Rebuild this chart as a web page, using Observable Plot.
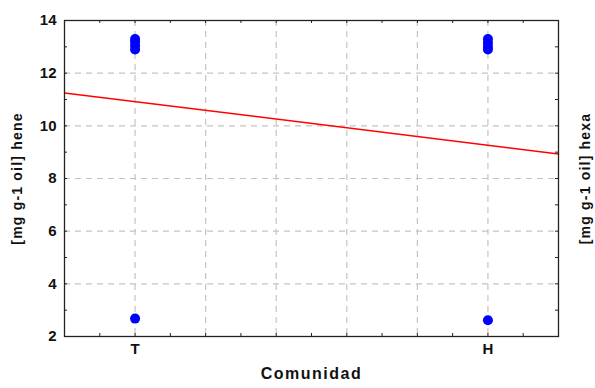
<!DOCTYPE html>
<html><head><meta charset="utf-8">
<script src="https://cdn.jsdelivr.net/npm/d3@7"></script>
<script src="https://cdn.jsdelivr.net/npm/@observablehq/plot@0.6"></script>
<style>
body{margin:0;background:#fff}
svg{font-family:"Liberation Sans",Arial,sans-serif}
</style>
</head><body><div id="chart"></div>
<script>
const categories = ["T", "H"];
const categoryPositions = [1, 2];
const heneT = [13.3, 13.2, 13.05, 12.9, 2.68];
const heneH = [13.3, 13.15, 13.0, 12.9, 2.62];
const fitX = [0.8, 2.2];
const fitY = [11.25, 8.93];
const yTickLabels = [2, 4, 6, 8, 10, 12, 14];
const yGrid = [4, 6, 8, 10, 12];
const yTicks = [3, 4, 5, 6, 7, 8, 9, 10, 11, 12, 13];
const xGrid = [1, 1.2, 1.4, 1.6, 1.8, 2];
const xTicks = [0.9, 1, 1.1, 1.2, 1.3, 1.4, 1.5, 1.6, 1.7, 1.8, 1.9, 2, 2.1];
const yLabelLeft = "[mg g-1 oil] hene";
const yLabelRight = "[mg g-1 oil] hexa";
const xLabel = "Comunidad";

const points = [
  ...heneT.map(v => ({x: categoryPositions[0], y: v})),
  ...heneH.map(v => ({x: categoryPositions[1], y: v}))
];
const fit = fitX.map((x, i) => ({x, y: fitY[i]}));

const W = 595, H = 388, mL = 64, mR = 37, mT = 20, mB = 52;
const innerW = W - mL - mR, innerH = H - mT - mB;
const tk = 3;

const chart = Plot.plot({
  width: W, height: H,
  marginLeft: mL, marginRight: mR, marginTop: mT, marginBottom: mB,
  style: {fontFamily: '"Liberation Sans", Arial, sans-serif', background: "#fff"},
  x: {domain: [0.8, 2.2], axis: null},
  y: {domain: [2, 14], axis: null},
  marks: [
    Plot.ruleX(xGrid, {stroke: "#c4c4c4", strokeDasharray: "6,5", strokeWidth: 1.2}),
    Plot.ruleY(yGrid, {stroke: "#c4c4c4", strokeDasharray: "6,5", strokeWidth: 1.2}),
    Plot.tickX(xTicks, {x: d => d, insetTop: innerH - tk, stroke: "#222"}),
    Plot.tickX(xTicks, {x: d => d, insetBottom: innerH - tk, stroke: "#222"}),
    Plot.tickY(yTicks, {y: d => d, insetRight: innerW - tk, stroke: "#222"}),
    Plot.tickY(yTicks, {y: d => d, insetLeft: innerW - tk, stroke: "#222"}),
    Plot.axisY({anchor: "left", ticks: yTickLabels, tickSize: 0, tickPadding: 8,
      fontSize: 15, fontWeight: "bold", fill: "#111", label: null}),
    Plot.axisX({anchor: "bottom", ticks: categoryPositions,
      tickFormat: d => categories[categoryPositions.indexOf(d)],
      tickSize: 0, tickPadding: 7, fontSize: 15, fontWeight: "bold", fill: "#111", label: null}),
    Plot.line(fit, {x: "x", y: "y", stroke: "#ff0000", strokeWidth: 1.5}),
    Plot.dot(points, {x: "x", y: "y", r: 5, fill: "#0000ff", stroke: "none"}),
    Plot.frame({stroke: "#222", strokeWidth: 1.3}),
    Plot.text([yLabelLeft], {frameAnchor: "left", dx: -47, rotate: -90, textAnchor: "middle",
      lineAnchor: "middle", fontSize: 14, fontWeight: "bold", fill: "#111", text: d => d}),
    Plot.text([yLabelRight], {frameAnchor: "right", dx: 27, rotate: -90, textAnchor: "middle",
      lineAnchor: "middle", fontSize: 14, fontWeight: "bold", fill: "#111", text: d => d}),
    Plot.text([xLabel], {frameAnchor: "bottom", dy: 42, textAnchor: "middle",
      fontSize: 16, fontWeight: "bold", fill: "#111", text: d => d})
  ]
});
chart.querySelectorAll("text").forEach(t => {
  const s = t.textContent;
  if (s === yLabelLeft || s === yLabelRight) t.setAttribute("letter-spacing", "1.2");
  if (s === xLabel) t.setAttribute("letter-spacing", "1.5");
});
document.getElementById("chart").append(chart);
</script>
</body></html>
